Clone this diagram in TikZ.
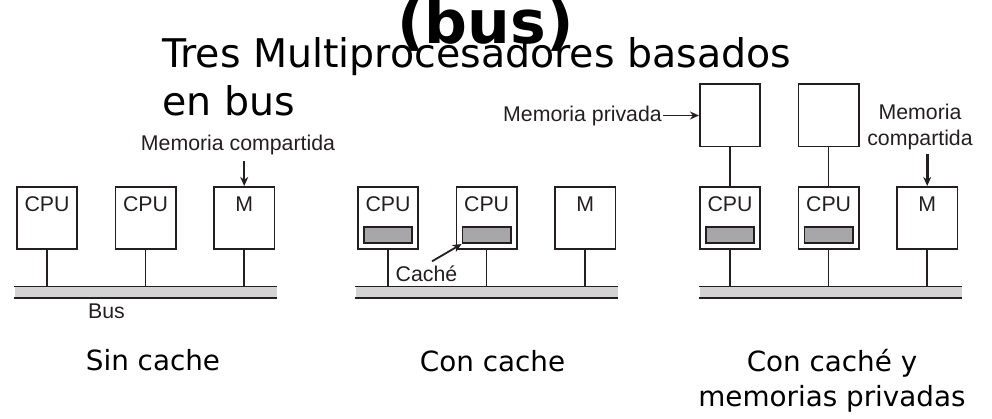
\documentclass[tikz,border=0pt]{standalone}
\usepackage{fontspec}
\setmainfont{DejaVu Sans}
\newfontfamily\diagfont{Liberation Sans}
\usetikzlibrary{positioning,arrows.meta}
\definecolor{busgray}{HTML}{D3D3D3}
\definecolor{cachegray}{HTML}{A7A7A9}
\definecolor{inkgray}{HTML}{231F20}
\tikzset{
  unit box/.style={
    draw=inkgray,
    line width=1.6pt,
    minimum width=60.5pt,
    minimum height=62.5pt,
    inner sep=0pt,
    text height=15pt,
    text depth=28pt,
    text=inkgray,
    font=\diagfont\fontsize{21.3}{25}\selectfont,
  },
  cache box/.style={
    draw=inkgray,
    fill=cachegray,
    line width=1.6pt,
    minimum width=48.5pt,
    minimum height=16.5pt,
    inner sep=0pt,
  },
  bus/.style={
    fill=busgray,
    minimum width=262pt,
    minimum height=11pt,
    inner sep=0pt,
  },
  wire/.style={draw=inkgray, line width=1.6pt},
  pointer/.style={
    draw=inkgray,
    fill=inkgray,
    line width=1.8pt,
    -{Stealth[length=9pt,width=8pt]},
  },
  annotation/.style={
    text=inkgray,
    inner sep=1pt,
    font=\diagfont\fontsize{21.3}{26}\selectfont,
  },
  caption/.style={
    font=\fontsize{27.8}{35}\selectfont,
    align=center,
    inner sep=0pt,
  }
}

\begin{document}
\begin{tikzpicture}[x=1pt, y=-1pt, node distance=36.5pt]
  \useasboundingbox (0,0) rectangle (992,418);

  % title
  \node [font=\fontsize{39.5}{47.3}\selectfont, align=left, anchor=north west, inner sep=0pt]
    (title) at (162,37.7) {Tres Multiprocesadores basados\\en bus};
  \node [font=\fontsize{60}{72}\selectfont\bfseries, anchor=base, inner sep=0pt]
    (titlebus) at (485.5,43) {(bus)};

  % sin cache
  \node [unit box] (cpuA) at (47,218) {CPU};
  \node [unit box, right=of cpuA] (cpuB) {CPU};
  \node [unit box, right=of cpuB] (memA) {M};
  \node [bus, below=36.5pt of cpuB] (busA) {};
  \draw [wire] (busA.north west) -- (busA.north east)
               (busA.south west) -- (busA.south east);
  \draw [wire] (cpuA) -- (cpuA |- busA.north);
  \draw [wire] (cpuB) -- (cpuB |- busA.north);
  \draw [wire] (memA) -- (memA |- busA.north);

  \node [annotation, anchor=base] (sharedA) at (238,150.5) {Memoria compartida};
  \draw [pointer, shorten <=5pt] (sharedA.south -| memA.north) -- (memA.north);
  \node [annotation, anchor=base] (busname) at (106.5,318) {Bus};

  % con cache
  \node [unit box] (cpuC) at (388,218) {CPU};
  \node [unit box, right=of cpuC] (cpuD) {CPU};
  \node [unit box, right=of cpuD] (memB) {M};
  \node [cache box, above=6pt of cpuC.south] (cacheC) {};
  \node [cache box, above=6pt of cpuD.south] (cacheD) {};
  \node [bus, below=36.5pt of cpuD] (busB) {};
  \draw [wire] (busB.north west) -- (busB.north east)
               (busB.south west) -- (busB.south east);
  \draw [wire] (cpuC) -- (cpuC |- busB.north);
  \draw [wire] (cpuD) -- (cpuD |- busB.north);
  \draw [wire] (memB) -- (memB |- busB.north);

  \node [annotation, anchor=base] (cachename) at (426.5,281.7) {Caché};
  \draw [pointer] ([xshift=5.5pt,yshift=3.5pt]cachename.north) -- (cacheD.south west);

  % con cache y memorias privadas
  \node [unit box] (cpuE) at (730,218) {CPU};
  \node [unit box, right=of cpuE] (cpuF) {CPU};
  \node [unit box, right=of cpuF] (memC) {M};
  \node [cache box, above=6pt of cpuE.south] (cacheE) {};
  \node [cache box, above=6pt of cpuF.south] (cacheF) {};
  \node [unit box, above=38.5pt of cpuE] (privE) {};
  \node [unit box, above=38.5pt of cpuF] (privF) {};
  \node [bus, below=36.5pt of cpuF, xshift=2pt] (busC) {};
  \draw [wire] (busC.north west) -- (busC.north east)
               (busC.south west) -- (busC.south east);
  \draw [wire] (cpuE) -- (cpuE |- busC.north);
  \draw [wire] (cpuF) -- (cpuF |- busC.north);
  \draw [wire] (memC) -- (memC |- busC.north);
  \draw [wire] (privE) -- (cpuE);
  \draw [wire] (privF) -- (cpuF);

  \node [annotation, anchor=base east] (privname) at (663,121) {Memoria privada};
  \draw [pointer] (privname.east) -- (privname.east -| privE.west);
  \node [annotation, align=center, anchor=south] (sharedB) at (920,151.3) {Memoria\\compartida};
  \draw [pointer, line width=2.6pt, shorten <=3pt] (sharedB.south -| memC.north) -- (memC.north);

  % captions
  \node [caption, anchor=base] (capA) at (153,370) {Sin cache};
  \node [caption, anchor=base] (capB) at (492.5,371) {Con cache};
  \node [caption, anchor=north] (capC) at (832,349.5) {Con caché y\\memorias privadas};
\end{tikzpicture}
\end{document}
